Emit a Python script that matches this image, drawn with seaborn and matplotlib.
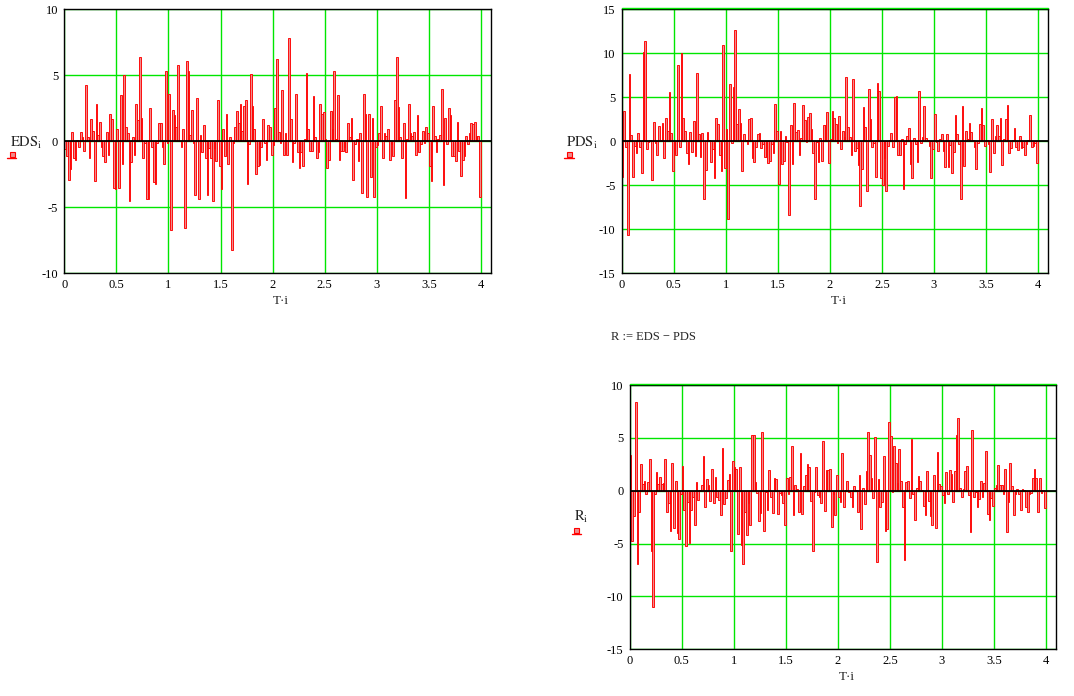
import numpy as np
import pandas as pd
import matplotlib
matplotlib.use('Agg')
import matplotlib.pyplot as plt
import seaborn as sns
from matplotlib.patches import Rectangle
from matplotlib.lines import Line2D

# ---------------- data ----------------
T = 1.0 / 60.0   # sample step: 240 bars between 0 and 4

EDS = [-0.6, -1.1, -2.9, -2.1, 0.7, -1.3, -1.4, 0.1, -0.4, 0.7,
       0.3, -0.7, 4.3, 0.35, -1.3, 1.7, 0.8, -3.0, 2.8, 0.5,
       1.5, -0.4, -1.1, -1.6, 0.7, -1.0, 2.1, 1.7, -3.5, -3.6,
       0.9, -3.5, 3.5, -1.7, 5.0, 1.1, 0.6, -4.5, -1.6, 0.3,
       -1.0, 2.8, 1.6, 6.4, 1.8, -1.3, -0.1, -4.4, -4.4, 2.5,
       -0.4, -3.1, -3.2, -0.1, 1.4, 1.4, -0.4, -1.7, 5.3, -0.1,
       3.6, -6.7, 2.4, 2.0, 1.1, 5.8, 0.0, -0.4, 0.9, -6.6,
       6.1, 5.3, 0.5, 2.4, -0.1, -4.1, 3.3, -4.4, 0.5, -0.8,
       1.2, -1.3, -4.1, -0.5, -1.3, -4.5, -0.5, -1.5, 3.1, -1.9,
       -3.6, 0.9, -1.1, 2.1, -1.7, 0.3, -8.2, -0.1, 1.1, 2.3,
       1.4, 2.8, 0.8, 2.7, 3.1, -3.2, -0.2, 5.1, 2.7, 0.9,
       -2.5, -1.9, -1.8, -0.4, 1.7, -0.1, -1.4, 1.2, 1.1, -1.0,
       -0.3, 2.5, 6.2, 0.7, -0.15, 3.9, -1.0, 0.6, -1.0, 7.8,
       1.7, -1.6, -0.15, 3.6, -0.8, -2.0, -0.8, -1.9, 0.2, 5.2,
       0.9, -0.7, -0.7, 3.4, 0.3, -1.3, -0.8, 2.8, 2.1, 2.2,
       0.2, -2.0, -1.4, 2.3, 0.9, 5.3, 0.2, 3.5, -1.4, -0.7,
       -0.7, -0.4, -0.8, 1.4, 0.3, 1.8, -2.9, -0.2, 0.2, -1.5,
       0.6, -3.9, 3.6, 2.1, -4.2, 2.1, -2.7, 1.8, -4.2, -0.4,
       -0.3, 0.6, 2.7, -1.3, 0.6, 0.4, 0.9, -1.4, -0.2, -1.1,
       3.1, 6.4, 2.6, 0.3, -1.3, 1.4, -4.3, 0.15, 2.8, 0.6,
       0.4, 0.7, -1.0, 2.0, -0.8, -0.2, 0.8, -0.15, 1.1, 0.6,
       -1.9, -3.0, 2.7, 0.4, -0.8, 0.2, 0.5, 4.0, -3.3, 1.8,
       -0.2, 2.5, 2.0, -1.1, -1.1, -1.5, 1.5, -0.7, -2.6, -1.4,
       -1.1, 0.4, -0.2, 0.6, 1.4, 1.3, 1.5, 0.4, 0.4, -4.2]

PDS = [-4.1, 3.5, -0.6, -10.6, 7.6, 0.7, -4.0, -0.5, -1.3, 0.9,
       -0.6, -3.6, 10.1, 11.4, -0.9, -0.1, 0.2, -4.4, 2.2, -0.2,
       -1.5, 1.7, 0.2, 2.1, -1.9, 2.6, 1.2, 5.6, 1.0, -3.4,
       -1.3, -1.6, 8.7, -0.7, 10.0, 2.7, 1.2, -1.3, -2.6, 1.1,
       -1.2, 2.3, -1.7, 7.8, 0.8, -1.8, 0.9, -6.5, -3.3, 1.1,
       0.1, -2.4, -0.9, -4.2, 2.6, 2.0, -1.5, -3.4, 11.0, -3.0,
       1.4, -8.8, 6.5, -0.2, 6.2, 12.6, 2.0, 3.7, 2.1, -3.4,
       0.8, 0.1, -0.3, 2.5, 2.7, -1.9, -2.4, -0.6, 0.8, 1.0,
       -0.8, -0.3, -1.8, -1.8, -2.5, -2.2, -0.3, -1.3, 4.2, 1.2,
       -4.8, 1.2, -2.6, -2.2, 0.6, -0.1, -8.4, 1.9, -2.6, 4.4,
       1.1, 1.3, -1.6, 0.4, 4.1, 2.4, -0.1, 2.8, 3.2, 1.4,
       -1.3, -6.6, -0.1, -2.4, 0.4, -2.2, 1.8, 1.8, 3.3, -2.5,
       0.3, 3.4, 2.6, 2.0, -0.2, 2.9, -0.9, 1.2, 0.5, 7.3,
       1.6, 0.5, -1.6, 7.1, -1.1, -0.8, -2.7, -7.4, -3.2, 3.9,
       1.6, -5.6, 6.0, 2.5, -0.7, -0.2, -4.1, 6.6, 5.7, -4.2,
       -5.0, -1.9, -5.6, -0.5, 0.2, 1.0, -0.7, 5.0, 5.1, -1.5,
       -1.6, 0.3, -5.4, -0.3, 0.6, 1.5, -2.6, -4.2, 0.4, -0.3,
       -2.4, 5.7, -0.2, 0.5, 4.0, 0.4, 0.2, -0.5, -4.2, -0.9,
       3.1, -0.1, -1.1, 0.3, 0.8, -1.1, -2.9, 0.8, -2.9, -0.4,
       -3.6, -1.2, 3.0, 0.8, -0.3, -6.6, 4.0, -2.8, 1.2, 0.3,
       2.1, 1.1, 0.1, -0.7, -3.1, -0.2, 2.0, 3.8, 1.8, -0.5,
       0.2, -0.3, -3.5, 2.5, -1.3, 0.6, 1.9, 0.6, 2.7, -2.7,
       0.3, 2.5, 4.1, -1.3, -0.8, 0.2, 1.5, -0.6, -1.0, 0.6,
       -0.8, -0.6, -1.5, -0.3, 0.2, 3.0, -0.6, -0.5, -0.2, -2.5]

R = [3.4, -4.8, -2.4, 8.4, -6.9, -2.0, 2.5, 0.6, 0.9, -0.3,
     0.8, 3.0, -5.7, -11.0, -0.3, 1.8, 0.6, 1.3, 0.6, 0.7,
     3.0, -2.0, -1.2, -3.8, 2.6, -3.5, 0.9, -4.0, -4.6, -0.3,
     2.3, -1.8, -5.2, -1.1, -4.9, -1.8, -0.6, -3.2, 0.8, -0.9,
     0.1, 0.5, 3.3, -1.5, 1.1, 0.5, -1.0, 2.1, -1.2, 1.3,
     -0.6, -0.9, -2.3, 4.0, -1.3, -0.7, 1.0, 1.6, -5.7, 2.8,
     2.2, 2.1, -4.1, 2.2, -5.1, -6.9, -2.0, -4.2, -1.2, -3.2,
     5.3, 5.3, 0.8, -0.2, -2.9, -2.1, 5.6, -3.8, -0.1, -1.8,
     2.0, -0.6, -2.1, 1.2, 1.1, -2.2, -0.2, -0.4, -1.2, -3.2,
     1.2, -0.3, 1.3, 4.2, -2.3, 0.5, 0.2, -2.0, 3.6, -2.2,
     0.4, 1.5, 2.5, 2.2, -1.0, -5.7, -0.1, 2.2, -0.4, -0.6,
     -1.2, 4.7, -1.9, 2.0, 2.0, 2.1, -3.4, -0.3, -2.3, 1.5,
     -0.6, -1.1, 3.6, -1.5, 0.1, 0.9, -0.1, -0.6, -1.5, 0.4,
     0.1, -2.0, 1.5, -3.6, 0.3, -1.3, 1.9, 5.6, 3.4, 1.2,
     -0.7, 5.1, -6.7, 1.1, -1.5, -1.1, 3.3, -3.8, -3.6, 6.5,
     5.2, -0.1, 4.2, 2.6, 0.7, 3.9, 0.9, -1.5, -6.6, 0.8,
     0.9, -0.7, 4.9, -0.3, -2.8, 0.3, 1.4, 0.9, 0.1, -1.4,
     -2.3, 1.9, -1.0, -2.4, -3.2, 1.5, -3.5, 3.7, 0.6, 0.4,
     -0.4, -1.2, 1.8, -0.3, 2.0, 1.6, -1.1, 1.9, 5.3, 6.9,
     0.3, -0.6, 0.2, 1.9, 2.3, -0.4, -3.9, 5.7, -0.6, -0.1,
     -1.5, -0.8, 0.9, -0.6, 0.7, 3.8, -2.2, -2.8, -0.7, -1.4,
     0.3, 0.5, 2.4, 0.5, 0.5, -0.3, 2.1, -3.9, -1.1, 2.6,
     0.4, -2.3, -0.3, 0.2, -0.3, -1.8, 0.2, 0.1, -1.5, -2.0,
     -0.3, -0.2, 1.2, 2.1, 1.2, -2.0, 1.2, -0.2, 0.1, -1.6]

x_ticks = [0, 0.5, 1, 1.5, 2, 2.5, 3, 3.5, 4]
x_tick_labels = ['0', '0.5', '1', '1.5', '2', '2.5', '3', '3.5', '4']
eds_yticks = [-10, -5, 0, 5, 10]
pds_yticks = [-15, -10, -5, 0, 5, 10, 15]
r_yticks = [-15, -10, -5, 0, 5, 10]

# ---------------- style ----------------
sns.set_style('white')
plt.rcParams['font.family'] = ['Liberation Serif', 'DejaVu Serif']
plt.rcParams['mathtext.fontset'] = 'stix'
plt.rcParams['axes.unicode_minus'] = False

W, H = 1074, 696
fig = plt.figure(figsize=(W / 100, H / 100), dpi=100)
fig.patch.set_facecolor('white')

GREEN = '#00e600'
BAR_FACE = '#ee8c8c'
BAR_EDGE = '#ff0000'
FS = 9


def px_axes(left, top, right, bottom):
    return fig.add_axes([left / W, 1 - bottom / H, (right - left) / W, (bottom - top) / H])


def panel(box, values, ylim, yticks, top_line=False):
    left, top, right, bottom = box
    ax = px_axes(left, top, right, bottom)
    idx = np.arange(len(values))
    df = pd.DataFrame({'t': T * idx + T / 2, 'v': values})
    sns.barplot(data=df, x='t', y='v', native_scale=True, width=1.0, orient='x',
                color=BAR_FACE, saturation=1, errorbar=None, ax=ax, zorder=3)
    for p in ax.patches:
        p.set_facecolor(BAR_FACE)
        p.set_edgecolor(BAR_EDGE)
        p.set_linewidth(0.65)
        p.set_antialiased(True)
    ax.set_xlim(0, 4.1)
    ax.set_ylim(*ylim)
    ax.set_xticks(x_ticks)
    ax.set_xticklabels(x_tick_labels)
    ax.set_yticks(yticks)
    ax.set_yticklabels([str(v) for v in yticks])
    ax.set_xlabel('')
    ax.set_ylabel('')
    ax.set_axisbelow(True)
    ax.grid(True, color=GREEN, linewidth=1.0, zorder=0)
    ax.axhline(0, color='black', linewidth=1.3, zorder=4)
    for s in ax.spines.values():
        s.set_visible(True)
        s.set_color('black')
        s.set_linewidth(1.0)
        s.set_zorder(5)
    ax.tick_params(axis='both', length=0, labelsize=FS, colors='black')
    ax.tick_params(axis='x', pad=4)
    ax.tick_params(axis='y', pad=4.5)
    if top_line:
        yy = 1 - (top - 1.3) / H
        fig.add_artist(Line2D([left / W, right / W], [yy, yy], color=GREEN, linewidth=1.0))
    cx = (left + right) / 2 + 3.5
    fig.text(cx / W, 1 - (bottom + 22) / H, 'T\u00b7i', ha='center', va='top', fontsize=FS + 0.5)
    return ax


def ylabel(name, x, baseline, mark_box, mark_line):
    fig.text(x / W, 1 - baseline / H, r'$\mathrm{%s}_{\mathrm{i}}$' % name,
             ha='left', va='baseline', fontsize=FS + 1.5)
    bx0, by0, bx1, by1 = mark_box
    fig.add_artist(Rectangle((bx0 / W, 1 - by1 / H), (bx1 - bx0) / W, (by1 - by0) / H,
                             transform=fig.transFigure, facecolor=BAR_FACE,
                             edgecolor=BAR_EDGE, linewidth=0.8))
    lx0, lx1, ly = mark_line
    fig.add_artist(Line2D([lx0 / W, lx1 / W], [1 - ly / H, 1 - ly / H],
                          color=BAR_EDGE, linewidth=1.0))


panel((64.3, 9.3, 491.3, 273.3), EDS, (-10, 10), eds_yticks)
panel((621.7, 9.3, 1048.3, 273.3), PDS, (-15, 15), pds_yticks, top_line=True)
panel((629.7, 385.0, 1056.3, 649.3), R, (-15, 10), r_yticks, top_line=True)

ylabel('EDS', 9.5, 146.7, (10, 151.5, 14.5, 157), (7, 16, 157.5))
ylabel('PDS', 566.5, 146.7, (566.5, 151.5, 571.5, 157), (564, 573.5, 157.5))
ylabel('R', 574.5, 520.7, (573.5, 527.5, 579, 533), (572, 581, 533.5))

fig.text(611 / W, 1 - 340 / H, 'R := EDS \u2212 PDS', ha='left', va='baseline', fontsize=FS)

fig.savefig('out.png', dpi=100, facecolor='white')
